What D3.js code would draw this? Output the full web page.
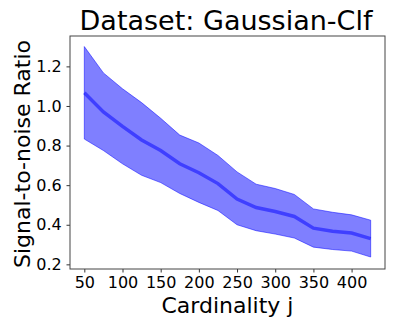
<!DOCTYPE html>
<html>
<head>
<meta charset="utf-8">
<script src="https://cdn.jsdelivr.net/npm/d3@7"></script>
<style>
  body { margin: 0; background: #fff; }
  text { font-family: "DejaVu Sans", sans-serif; fill: #000; }
</style>
</head>
<body>
<script>
// Chart size
const width = 395;
const height = 329;

// Data
var cardinality = [50, 75, 100, 125, 150, 175, 200, 225, 250, 275, 300, 325, 350, 375, 400, 425];
var snrMean  = [1.067, 0.97, 0.897, 0.828, 0.775, 0.708, 0.663, 0.608, 0.53, 0.487, 0.467, 0.442, 0.383, 0.367, 0.358, 0.33];
var snrUpper = [1.30, 1.167, 1.087, 1.017, 0.938, 0.853, 0.813, 0.75, 0.667, 0.605, 0.583, 0.553, 0.48, 0.463, 0.45, 0.423];
var snrLower = [0.833, 0.775, 0.708, 0.65, 0.613, 0.558, 0.513, 0.472, 0.40, 0.37, 0.353, 0.333, 0.287, 0.275, 0.267, 0.237];
var xTicks = [50, 100, 150, 200, 250, 300, 350, 400];
var yTicks = [0.2, 0.4, 0.6, 0.8, 1.0, 1.2];

// Plot area
const plotLeft = 70, plotRight = 385, plotTop = 36, plotBottom = 269;

var svg = d3.select("body")
    .append("svg")
    .attr("width", width)
    .attr("height", height);

// Scales with matplotlib-like 5% margins
var x_scale = d3.scaleLinear()
    .domain([31.25, 443.75])
    .range([plotLeft, plotRight]);
var y_scale = d3.scaleLinear()
    .domain([0.1765, 1.3535])
    .range([plotBottom, plotTop]);

var rows = cardinality.map((c, i) => ({x: c, m: snrMean[i], lo: snrLower[i], hi: snrUpper[i]}));

// Band
var area = d3.area()
    .x(d => x_scale(d.x))
    .y0(d => y_scale(d.lo))
    .y1(d => y_scale(d.hi));
svg.append("path")
    .datum(rows)
    .attr("d", area)
    .attr("fill", "blue")
    .attr("fill-opacity", 0.5)
    .attr("stroke", "blue")
    .attr("stroke-opacity", 0.5)
    .attr("stroke-width", 1);

// Mean line
var line = d3.line()
    .x(d => x_scale(d.x))
    .y(d => y_scale(d.m));
svg.append("path")
    .datum(rows)
    .attr("d", line)
    .attr("fill", "none")
    .attr("stroke", "blue")
    .attr("stroke-opacity", 0.5)
    .attr("stroke-width", 3.5);

// Axes
var x_axis = d3.axisBottom(x_scale).tickValues(xTicks).tickSize(3.5).tickPadding(4.5);
var y_axis = d3.axisLeft(y_scale).tickValues(yTicks).tickSize(3.5).tickPadding(4.8)
    .tickFormat(d3.format(".1f"));

var gx = svg.append("g")
    .attr("transform", `translate(0, ${plotBottom})`)
    .call(x_axis);
var gy = svg.append("g")
    .attr("transform", `translate(${plotLeft}, 0)`)
    .call(y_axis);
[gx, gy].forEach(g => {
    g.select(".domain").remove();
    g.selectAll("line").attr("stroke", "#000").attr("stroke-width", 0.8);
    g.selectAll("text").style("font-size", "16px").attr("fill", "#000");
});

// Frame
svg.append("rect")
    .attr("x", plotLeft)
    .attr("y", plotTop)
    .attr("width", plotRight - plotLeft)
    .attr("height", plotBottom - plotTop)
    .attr("fill", "none")
    .attr("stroke", "#444")
    .attr("stroke-width", 1);

// Title and labels
svg.append("text")
    .attr("x", 226)
    .attr("y", 30)
    .attr("text-anchor", "middle")
    .style("font-size", "27px")
    .text("Dataset: Gaussian-Clf");
svg.append("text")
    .attr("x", (plotLeft + plotRight) / 2)
    .attr("y", 313)
    .attr("text-anchor", "middle")
    .style("font-size", "22px")
    .text("Cardinality j");
svg.append("text")
    .attr("transform", `translate(29.5, 154) rotate(-90)`)
    .attr("text-anchor", "middle")
    .style("font-size", "22px")
    .text("Signal-to-noise Ratio");
</script>
</body>
</html>
